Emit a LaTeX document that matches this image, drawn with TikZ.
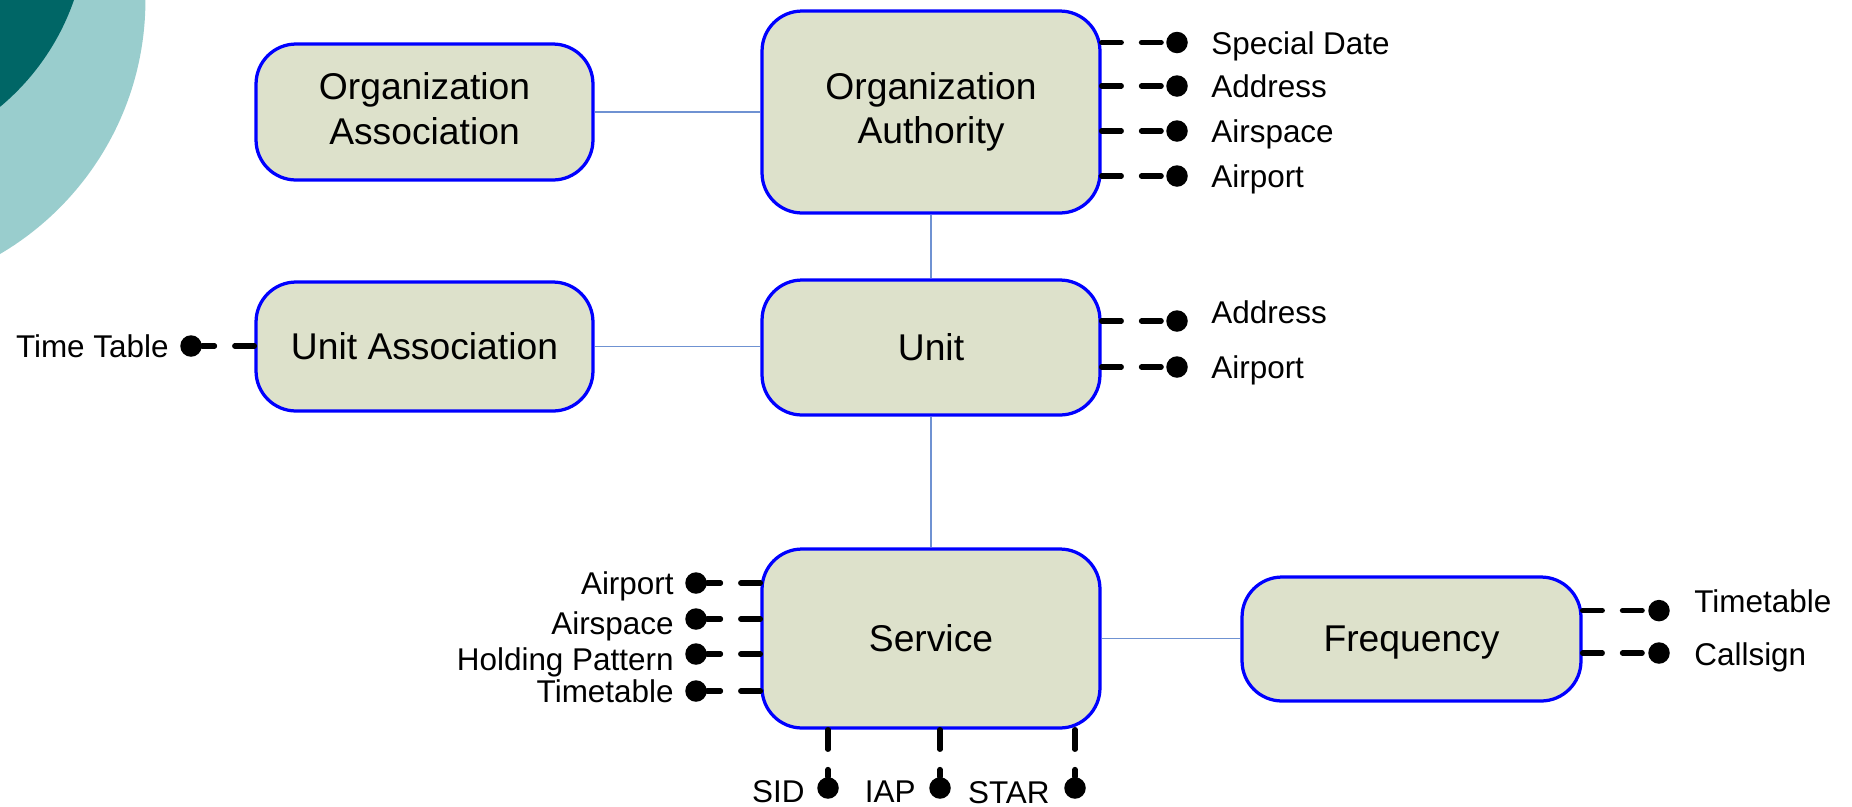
\documentclass[tikz,border=0pt]{standalone}
\usepackage{fontspec}
\setmainfont{Liberation Sans}
\definecolor{boxfill}{RGB}{221,225,203}
\definecolor{boxline}{RGB}{0,0,255}
\definecolor{linkc}{RGB}{111,146,210}
\definecolor{tealdark}{RGB}{0,102,102}
\definecolor{teallight}{RGB}{153,205,205}
\tikzset{
 box/.style={draw=boxline, fill=boxfill, line width=1.85pt, rounded corners=0.8cm, inner sep=0pt, align=center, font=\fontsize{21.2}{24.8}\selectfont},
 link/.style={draw=linkc, line width=0.8pt},
 stub/.style={line width=3pt, line cap=round, dash pattern=on 11.2pt off 11.5pt},
 dot/.style={circle, fill=black, inner sep=0pt, minimum size=0.43cm},
 lbl/.style={font=\fontsize{17.9}{21}\selectfont, inner sep=0pt},
}
\begin{document}
\begin{tikzpicture}[x=0.02cm, y=-0.02cm]
\useasboundingbox (0,0) rectangle (1852,806);
\begin{scope}
\clip (0,0) rectangle (1852,806);
\fill[teallight] (-149,0) circle [radius=5.89cm];
\fill[tealdark] (-154.4,-78.9) circle [radius=4.832cm];
\end{scope}

% boxes
\node[box, minimum width=6.74cm, minimum height=2.72cm] (oassoc) at (424.5,112) {\raisebox{-0.8pt}[\height][\depth]{\def\arraystretch{1.03}\begin{tabular}{@{}c@{}}Organization\\Association\end{tabular}}};
\node[box, minimum width=6.76cm, minimum height=4.04cm] (oauth) at (931,112) {Organization\\Authority};
\node[box, minimum width=6.74cm, minimum height=2.58cm] (uassoc) at (424.5,346.5) {Unit Association};
\node[box, minimum width=6.76cm, minimum height=2.7cm] (unit) at (931,347.5) {Unit};
\node[box, minimum width=6.76cm, minimum height=3.58cm] (svc) at (931,638.5) {Service};
\node[box, minimum width=6.78cm, minimum height=2.48cm] (freq) at (1411.5,639) {\raisebox{0pt}[\height][0pt]{Frequency}};

% links
\draw[link] (oassoc.east) -- (oauth.west);
\draw[link] (oauth.south) -- (unit.north);
\draw[link] (uassoc.east) -- (uassoc.east -| unit.west);
\draw[link] (unit.south) -- (svc.north);
\draw[link] (svc.east) -- (svc.east -| freq.west);

% Organization Authority attributes
\node[dot] (a1) at (1177,42.5) {};
\node[dot] (a2) at (1177,86) {};
\node[dot] (a3) at (1177,131) {};
\node[dot] (a4) at (1177,176) {};
\foreach \d in {a1,a2,a3,a4} \draw[stub] (oauth.east |- \d) -- (\d);
\node[lbl, anchor=base west] (la1) at (1211,54) {Special Date};
\node[lbl, anchor=base west] (la2) at (1211,97) {Address};
\node[lbl, anchor=base west] (la3) at (1211,142) {Airspace};
\node[lbl, anchor=base west] (la4) at (1211,187) {Airport};

% Unit attributes
\node[dot] (u1) at (1177,321) {};
\node[dot] (u2) at (1177,367) {};
\foreach \d in {u1,u2} \draw[stub] (unit.east |- \d) -- (\d);
\node[lbl, anchor=base west] (lu1) at (1211,323) {Address};
\node[lbl, anchor=base west] (lu2) at (1211,378) {Airport};

% Unit Association attribute
\node[dot] (t1) at (191,346) {};
\draw[stub] (uassoc.west |- t1) -- (t1);
\node[lbl, anchor=base east] (lt1) at (169,357) {Time Table};

% Service left attributes
\node[dot] (s1) at (696,583) {};
\node[dot] (s2) at (696,619) {};
\node[dot] (s3) at (696,654) {};
\node[dot] (s4) at (696,691) {};
\foreach \d in {s1,s2,s3,s4} \draw[stub] (svc.west |- \d) -- (\d);
\node[lbl, anchor=base east] (ls1) at (674,594) {Airport};
\node[lbl, anchor=base east] (ls2) at (674,634) {Airspace};
\node[lbl, anchor=base east] (ls3) at (674,670) {Holding Pattern};
\node[lbl, anchor=base east] (ls4) at (674,702) {Timetable};

% Service bottom attributes
\node[dot] (b1) at (828,788) {};
\node[dot] (b2) at (940,788) {};
\node[dot] (b3) at (1075,788) {};
\foreach \d in {b1,b2,b3} \draw[stub] (svc.south -| \d) -- (\d);
\node[lbl, anchor=base east] (lb1) at (805,802) {SID};
\node[lbl, anchor=base east] (lb2) at (916,802) {IAP};
\node[lbl, anchor=base east] (lb3) at (1050,803) {STAR};

% Frequency attributes
\node[dot] (f1) at (1659,610.6) {};
\node[dot] (f2) at (1659,653) {};
\foreach \d in {f1,f2} \draw[stub] (freq.east |- \d) -- (\d);
\node[lbl, anchor=base west] (lf1) at (1694,612) {Timetable};
\node[lbl, anchor=base west] (lf2) at (1694,665) {Callsign};
\end{tikzpicture}
\end{document}
